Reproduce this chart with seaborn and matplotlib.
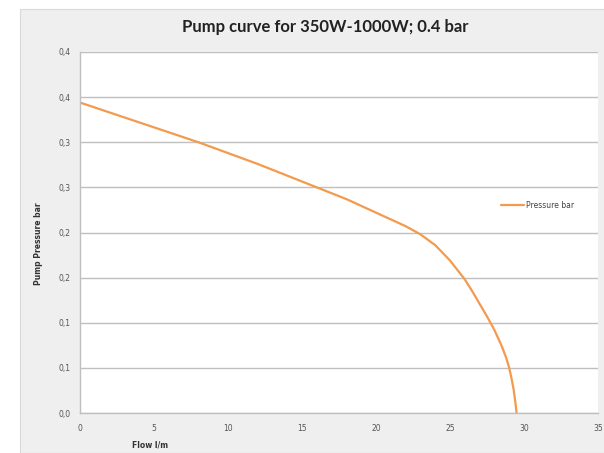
import pandas as pd
import seaborn as sns
import matplotlib.pyplot as plt
from matplotlib.patches import Rectangle

# values
flow = [0, 2, 4, 6, 8, 10, 12, 14, 16, 18, 20, 22, 23, 24, 25, 26, 26.5, 27, 27.5, 28,
        28.5, 28.8, 29, 29.15, 29.3, 29.4, 29.5]
pressure = [0.344, 0.333, 0.322, 0.311, 0.300, 0.288, 0.276, 0.263, 0.250, 0.237, 0.222,
            0.207, 0.198, 0.186, 0.169, 0.148, 0.135, 0.121, 0.107, 0.092, 0.074, 0.061,
            0.050, 0.039, 0.026, 0.014, 0.0]
x_ticks = [0, 5, 10, 15, 20, 25, 30, 35]
y_ticks = [0.0, 0.05, 0.10, 0.15, 0.20, 0.25, 0.30, 0.35, 0.40]
y_tick_labels = ["0,0", "0,1", "0,1", "0,2", "0,2", "0,3", "0,3", "0,4", "0,4"]
series_name = "Pressure bar"

df = pd.DataFrame({"Flow l/m": flow, "Pressure": pressure})

sns.set_style("white")
plt.rcParams["font.family"] = ["DejaVu Sans"]

W, H = 604, 453
fig = plt.figure(figsize=(W / 100, H / 100), dpi=100, facecolor="white")
# grey chart area background (white strip on the left like the screenshot)
fig.patches.append(Rectangle((20 / W, 0), 1, (H - 9) / H, transform=fig.transFigure,
                             facecolor="#efefef", edgecolor="#d9d9d9", lw=0.8, zorder=-10))

ax = fig.add_axes([80 / W, (H - 413) / H, (598 - 80) / W, (413 - 52) / H])
ax.set_facecolor("white")

sns.lineplot(data=df, x="Flow l/m", y="Pressure", ax=ax, color="#f39a4c",
             linewidth=1.6, label=series_name, sort=False)

ax.set_xlim(0, 35)
ax.set_ylim(0, 0.4)
ax.set_xticks(x_ticks)
ax.set_yticks(y_ticks)
ax.set_yticklabels(y_tick_labels)
ax.tick_params(axis="both", labelsize=5.5, colors="#8c8c8c", labelcolor="#555555",
               length=3, width=0.6, direction="out", pad=4)
ax.tick_params(axis="x", pad=5)

ax.grid(axis="y", color="#bfbfbf", linewidth=1.0)
ax.grid(axis="x", visible=False)
for side in ["top", "right"]:
    ax.spines[side].set_visible(False)
for side in ["left", "bottom"]:
    ax.spines[side].set_color("#bfbfbf")
    ax.spines[side].set_linewidth(1.0)

ax.set_xlabel("Flow l/m", fontsize=5.5, fontweight="bold", color="#333333")
ax.xaxis.set_label_coords(0.135, -0.075)
ax.set_ylabel("Pump Pressure bar", fontsize=5.5, fontweight="bold", color="#333333")
ax.yaxis.set_label_coords(-0.072, 0.47)

fig.text(325 / W, 1 - 27 / H, "Pump curve for 350W-1000W; 0.4 bar", ha="center", va="center",
         fontsize=12, fontweight="bold", color="#222222", family=["Lato", "DejaVu Sans"])

leg = ax.legend(loc="center left", bbox_to_anchor=(0.80, 0.576), frameon=False,
                fontsize=5.5, handlelength=3.0, handletextpad=0.3)
for t in leg.get_texts():
    t.set_color("#444444")

fig.savefig("out.png", dpi=100, facecolor=fig.get_facecolor())
